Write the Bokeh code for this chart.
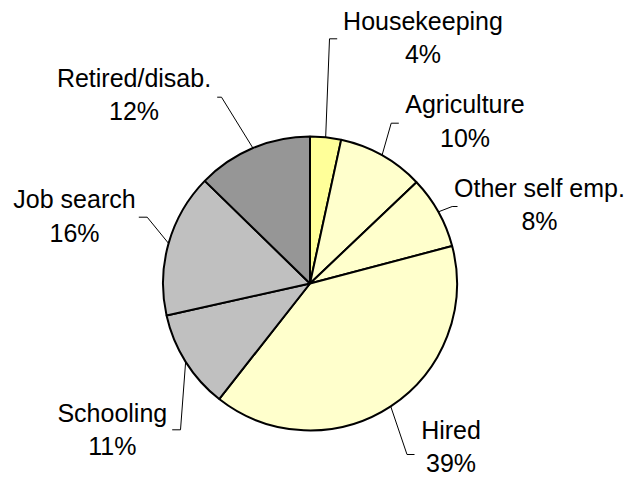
import numpy as np
from bokeh.plotting import figure
from bokeh.models import Range1d
from bokeh.core.properties import value
from bokeh.embed import file_html
from bokeh.resources import INLINE

# ---- data ----
categories = ["Housekeeping", "Agriculture", "Other self emp.", "Hired",
              "Schooling", "Job search", "Retired/disab."]
shares = [3.4, 9.5, 8.0, 39.7, 10.9, 15.8, 12.7]
pct_labels = ["4%", "10%", "8%", "39%", "11%", "16%", "12%"]

# ---- style ----
colors = ["#FFFF99", "#FFFFCC", "#FFFFCC", "#FFFFCC", "#C0C0C0", "#C0C0C0", "#969696"]

W, H = 625, 477


def wy(y):
    # pixel y from top -> data y (y up)
    return H - y


p = figure(width=W, height=H, output_backend="svg", toolbar_location=None,
           x_range=Range1d(0, W), y_range=Range1d(0, H), min_border=0)
p.axis.visible = False
p.grid.visible = False
p.outline_line_color = None
p.background_fill_color = "white"
p.border_fill_color = "white"

cx, cy, R = 309.5, wy(283), 147.0

vals = np.array(shares, dtype=float)
frac = vals / vals.sum()
c1 = np.cumsum(frac)
c0 = c1 - frac
starts = np.pi / 2 - 2 * np.pi * c0
ends = np.pi / 2 - 2 * np.pi * c1

p.wedge(x=cx, y=cy, radius=R, start_angle=starts, end_angle=ends,
        direction="clock", fill_color=colors, line_color="black", line_width=2)

# leader lines: start on the rim at slice mid-angle, elbow, short horizontal
mid = 2 * np.pi * (c0 + c1) / 2  # clockwise from 12 o'clock
sx = cx + R * np.sin(mid)
sy = cy + R * np.cos(mid)
elbows = [(329, 38.3), (390.7, 122.7), (451.7, 206), (406.5, 454),
          (180, 429.3), (146.7, 216.7), (221, 96.7)]
ends_x = [336.7, 398.3, 457.0, 414, 171.7, 138.3, 216.7]
xs, ys = [], []
for i in range(len(categories)):
    ex, ey = elbows[i]
    xs.append([sx[i], ex, ends_x[i]])
    ys.append([sy[i], wy(ey), wy(ey)])
p.multi_line(xs=xs, ys=ys, line_color="black", line_width=1)

# labels (baselines; rendered text sits ~8px below the given anchor)
lab_x = [422.5, 464.5, 539.0, 450.5, 111.8, 74, 133.5]
lab_b1 = [20.3, 103.7, 187, 429, 412, 198, 77]
lab_b2 = [53.7, 137, 220.3, 462, 445.3, 232, 110.3]

common = dict(text_align="center", text_baseline="alphabetic",
              text_font=value("Liberation Sans"), text_font_size="25px",
              text_color="black")
p.text(x=lab_x, y=[wy(b) for b in lab_b1], text=categories, **common)
p.text(x=lab_x, y=[wy(b) for b in lab_b2], text=pct_labels, **common)

open("out.html", "w").write(file_html(p, INLINE))
